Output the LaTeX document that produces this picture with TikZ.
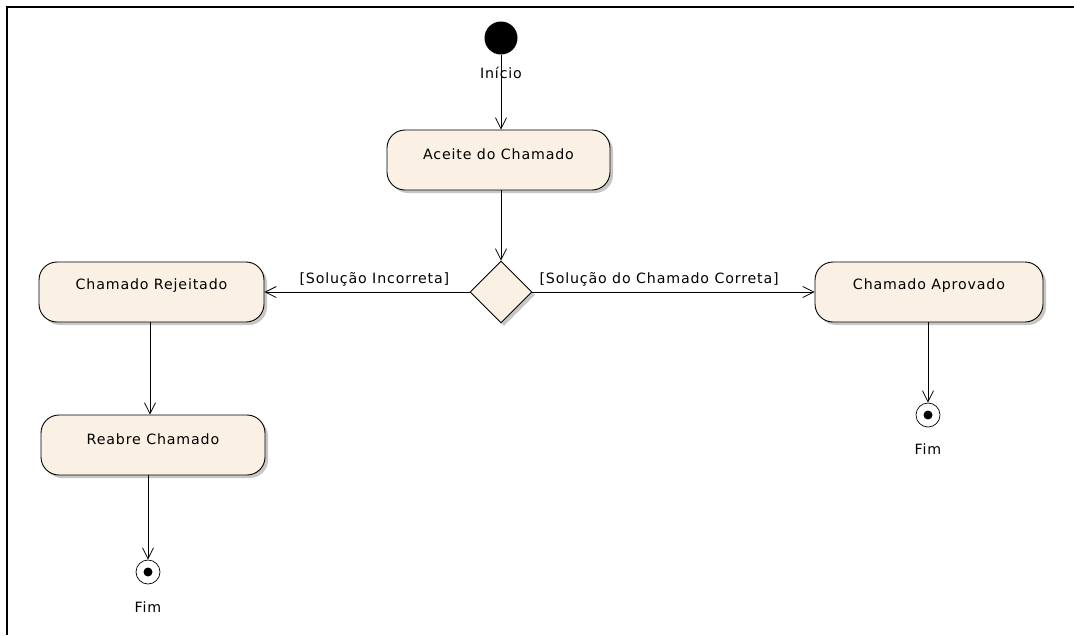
\documentclass[tikz,border=0pt]{standalone}
\usepackage{fontspec}
\setmainfont{DejaVu Sans}[LetterSpace=6]
\usetikzlibrary{arrows.meta,shapes.geometric,shadows}
\definecolor{cream}{RGB}{250,241,228}
\definecolor{shd}{RGB}{185,185,185}
\tikzset{
  act/.style={draw=black,line width=0.9pt,fill=cream,rounded corners=18pt,
    minimum height=60pt,inner sep=0pt,
    drop shadow={shadow xshift=3pt,shadow yshift=-3pt,fill=shd,opacity=0.8}},
  lbl/.style={font=\fontsize{14.2}{16}\selectfont,yshift=6pt},
  txt/.style={font=\fontsize{14.2}{16}\selectfont,inner sep=0pt},
  flow/.style={draw=black,line width=0.8pt,-{Straight Barb[length=11pt,width=11pt,line width=0.8pt]}},
  dec/.style={diamond,draw=black,line width=0.9pt,fill=cream,minimum width=62pt,minimum height=62pt,inner sep=0pt,
    drop shadow={shadow xshift=3pt,shadow yshift=-3pt,fill=shd,opacity=0.8}},
  endo/.style={circle,draw=black,line width=0.7pt,fill=white,minimum size=24pt,inner sep=0pt},
  endi/.style={circle,fill=black,minimum size=9pt,inner sep=0pt},
  border/.style={line width=2.2pt,draw=black}
}
\begin{document}
\begin{tikzpicture}[x=1pt,y=-1pt]
\useasboundingbox (0,0) rectangle (1074,635);
\coordinate (tl) at (7,7);
\coordinate (tr) at (1074,7);
\coordinate (bl) at (7,635);
\draw[border] (tr) -- (tl) -- (bl);

\node[circle,fill=black,minimum size=33pt,inner sep=0pt] (start) at (501,38) {};
\node[txt] (inicio) at (501,73) {Início};

\node[act,minimum width=223pt] (aceite) at (498.5,160) {};
\node[lbl] (aceiteT) at (aceite.center) {Aceite do Chamado};

\node[dec] (dec) at (501,292) {};

\node[act,minimum width=225pt] (rej) at (151.5,292) {};
\node[lbl] (rejT) at (rej.center) {Chamado Rejeitado};

\node[act,minimum width=228pt] (apr) at (929,292) {};
\node[lbl] (aprT) at (apr.center) {Chamado Aprovado};

\node[act,minimum width=224pt] (reab) at (153,445) {};
\node[lbl] (reabT) at (reab.center) {Reabre Chamado};

\node[endo] (fim1) at (928,415) {};
\node[endi] (fim1i) at (fim1.center) {};
\node[txt] (fim1T) at (928,449) {Fim};

\node[endo] (fim2) at (148,572) {};
\node[endi] (fim2i) at (fim2.center) {};
\node[txt] (fim2T) at (148,607) {Fim};

\draw[flow] (start) -- (start |- aceite.north);
\draw[flow] (aceite.south -| dec) -- (dec.north);
\draw[flow] (dec.west) -- node[txt,pos=0.464,above=5pt] (l1) {[Solução Incorreta]} (rej.east);
\draw[flow] (dec.east) -- node[txt,pos=0.449,above=5pt] (l2) {[Solução do Chamado Correta]} (apr.west);
\draw[flow] (rej.south -| 150,0) -- (reab.north -| 150,0);
\draw[flow] (apr.south -| fim1) -- (fim1);
\draw[flow] (reab.south -| fim2) -- (fim2);
\end{tikzpicture}
\end{document}
